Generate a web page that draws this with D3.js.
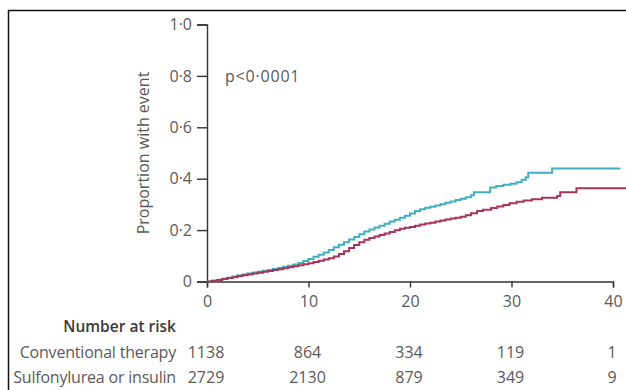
<!DOCTYPE html>
<html>
<head>
<meta charset="utf-8">
<script src="https://cdn.jsdelivr.net/npm/d3@7"></script>
<style>
  html, body { margin: 0; padding: 0; background: #fff; }
  svg { display: block; font-family: 'Open Sans', sans-serif; }
</style>
</head>
<body>
<div id="chart"><svg width="626" height="390"></svg></div>
<script>
// [years, cumulative proportion with event]
const CONVENTIONAL = [
  [0, 0], [0.5, 0.003], [1, 0.007], [1.5, 0.011], [2, 0.015], [2.5, 0.019],
  [3, 0.023], [3.5, 0.027], [4, 0.031], [4.5, 0.035], [5, 0.038], [5.5, 0.042],
  [6, 0.045], [6.5, 0.049], [7, 0.053], [7.5, 0.057], [8, 0.061], [8.5, 0.066],
  [9, 0.072], [9.5, 0.080], [10, 0.088], [10.5, 0.096], [11, 0.104], [11.5, 0.113],
  [12, 0.123], [12.5, 0.133], [13, 0.143], [13.5, 0.153], [14, 0.163], [14.5, 0.173],
  [15, 0.184], [15.5, 0.195], [16, 0.202], [16.5, 0.210], [17, 0.217], [17.5, 0.225],
  [18, 0.233], [18.5, 0.240], [19, 0.248], [19.5, 0.256], [20, 0.265], [20.5, 0.274],
  [21, 0.281], [21.5, 0.287], [22, 0.291], [22.5, 0.296], [23, 0.301], [23.5, 0.306],
  [24, 0.311], [24.5, 0.317], [25, 0.322], [25.5, 0.328], [26, 0.336], [26.3, 0.347],
  [27.9, 0.366], [28.5, 0.372], [29.2, 0.376], [29.9, 0.380], [30.5, 0.386],
  [31, 0.396], [31.4, 0.406], [31.65, 0.423], [34.0, 0.440], [40.75, 0.440]
];
const SULFONYLUREA = [
  [0, 0], [0.5, 0.003], [1, 0.006], [1.5, 0.010], [2, 0.014], [2.5, 0.017],
  [3, 0.021], [3.5, 0.024], [4, 0.027], [4.5, 0.031], [5, 0.034], [5.5, 0.038],
  [6, 0.041], [6.5, 0.045], [7, 0.048], [7.5, 0.052], [8, 0.055], [8.5, 0.059],
  [9, 0.063], [9.5, 0.067], [10, 0.071], [10.5, 0.076], [11, 0.081], [11.5, 0.086],
  [12, 0.090], [12.5, 0.097], [13, 0.107], [13.5, 0.118], [14, 0.130], [14.5, 0.142],
  [15, 0.153], [15.5, 0.162], [16, 0.169], [16.5, 0.175], [17, 0.181], [17.5, 0.187],
  [18, 0.193], [18.5, 0.199], [19, 0.205], [19.5, 0.209], [20, 0.212], [20.5, 0.217],
  [21, 0.222], [21.5, 0.226], [22, 0.229], [22.5, 0.233], [23, 0.237], [23.5, 0.241],
  [24, 0.245], [24.5, 0.248], [25, 0.252], [25.5, 0.258], [26, 0.266], [26.6, 0.274],
  [27.2, 0.279], [28, 0.286], [28.6, 0.292], [29.2, 0.298], [29.8, 0.304], [30.5, 0.310],
  [31.2, 0.315], [32, 0.320], [33, 0.326], [34.5, 0.333], [34.8, 0.347], [36.4, 0.363],
  [41.3, 0.363]
];

const X_TICKS = [0, 10, 20, 30, 40];
const Y_TICKS = [0, 0.2, 0.4, 0.6, 0.8, 1.0];
const GROUPS = ['Conventional therapy', 'Sulfonylurea or insulin'];
const AT_RISK = [
  [1138, 864, 334, 119, 1],
  [2729, 2130, 879, 349, 9]
];
const P_VALUE = 'p<0·0001';

const SVG = d3.select('#chart svg');
const TEXT_COLOR = '#5a5a5a';
const AXIS_COLOR = '#333';
const COLORS = ['#3fb0bd', '#a6345c'];
const FONT_SIZE = '16px';

// frame lines on top and left
SVG.append('path')
  .attr('d', 'M8.5,390V10.5H626')
  .style('fill', 'none')
  .style('stroke', '#111')
  .style('stroke-width', 1.5);

const X_SCALE = d3.scaleLinear().domain([0, 40]).range([207, 613]);
const Y_SCALE = d3.scaleLinear().domain([0, 1]).range([281.5, 24.5]);

const fmt = d => d === 0 ? '0' : d3.format('.1f')(d).replace('.', '·');

SVG.append('g')
  .attr('id', 'yAxis')
  .attr('transform', `translate(${X_SCALE(0)},0)`)
  .call(d3.axisLeft(Y_SCALE).tickValues(Y_TICKS).tickFormat(fmt).tickSize(10).tickPadding(5));

SVG.append('g')
  .attr('id', 'xAxis')
  .attr('transform', `translate(0,${Y_SCALE(0)})`)
  .call(d3.axisBottom(X_SCALE).tickValues(X_TICKS).tickSize(6).tickPadding(8));

SVG.selectAll('.domain, .tick line')
  .style('stroke', AXIS_COLOR)
  .style('stroke-width', 1.4);
SVG.selectAll('.tick text')
  .style('fill', TEXT_COLOR)
  .style('font-family', "'Open Sans', sans-serif")
  .style('font-size', FONT_SIZE);

SVG.append('text')
  .text('Proportion with event')
  .attr('transform', 'translate(149,153) rotate(-90)')
  .style('text-anchor', 'middle')
  .style('fill', TEXT_COLOR)
  .style('font-size', FONT_SIZE);

SVG.append('text')
  .text(P_VALUE)
  .attr('x', 225)
  .attr('y', Y_SCALE(0.8) + 6)
  .style('fill', TEXT_COLOR)
  .style('letter-spacing', '0.8px')
  .style('font-size', FONT_SIZE);

const LINE = d3.line()
  .x(d => X_SCALE(d[0]))
  .y(d => Y_SCALE(d[1]))
  .curve(d3.curveStepAfter);

SVG.append('g')
  .attr('id', 'curves')
  .selectAll('path')
  .data([CONVENTIONAL, SULFONYLUREA])
  .join('path')
  .attr('d', LINE)
  .style('fill', 'none')
  .style('stroke', (d, i) => COLORS[i])
  .style('stroke-width', 2);

// number at risk table
const RISK_G = SVG.append('g').attr('id', 'risk');
RISK_G.append('text')
  .text('Number at risk')
  .attr('x', 176)
  .attr('y', 332)
  .style('text-anchor', 'end')
  .style('font-weight', '600')
  .style('fill', '#3a3a3a')
  .style('font-size', '15.5px');

GROUPS.forEach((name, row) => {
  const y = 358 + row * 25;
  RISK_G.append('text')
    .text(name)
    .attr('x', 176)
    .attr('y', y)
    .style('text-anchor', 'end')
    .style('fill', TEXT_COLOR)
    .style('letter-spacing', '-0.2px')
    .style('font-size', FONT_SIZE);
  RISK_G.selectAll(`.n${row}`)
    .data(AT_RISK[row])
    .join('text')
    .attr('class', `n${row}`)
    .text(d => d)
    .attr('x', (d, i) => X_SCALE(X_TICKS[i]) - 1)
    .attr('y', y)
    .style('text-anchor', 'middle')
    .style('fill', TEXT_COLOR)
    .style('font-size', FONT_SIZE);
});
</script>
</body>
</html>
